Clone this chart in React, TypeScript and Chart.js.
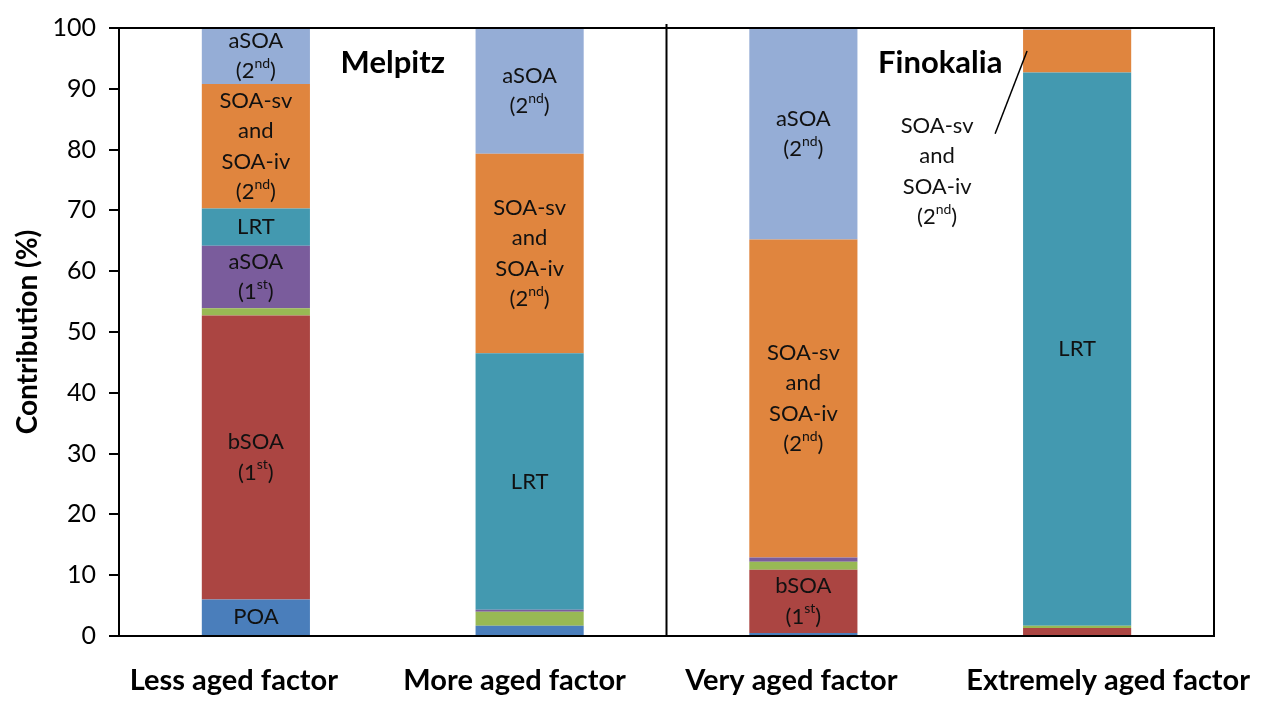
import { useEffect, useRef } from "react";
import { Chart, registerables } from "chart.js";

Chart.register(...registerables);

const categories = ["Less aged factor", "More aged factor", "Very aged factor", "Extremely aged factor"];

const poaValues = [6.0, 1.7, 0.5, 0];
const bsoa1Values = [46.7, 0, 10.4, 1.3];
const otherValues = [1.2, 2.3, 1.3, 0.4];
const asoa1Values = [10.3, 0.3, 0.7, 0];
const lrtValues = [6.1, 42.2, 0, 91.0];
const soaSvIvValues = [20.5, 32.8, 52.3, 7.0];
const asoa2Values = [9.2, 20.7, 34.8, 0.3];

const seriesNames = ["POA", "bSOA (1st)", "Other", "aSOA (1st)", "LRT", "SOA-sv and SOA-iv (2nd)", "aSOA (2nd)"];
const seriesColors = ["#4a7ebb", "#ab4542", "#98b954", "#7a5c9c", "#4399b0", "#e0853e", "#95add6"];

const poaLabels = [["POA"], null, null, null];
const bsoa1Labels = [["bSOA", "(1^st)"], null, ["bSOA", "(1^st)"], null];
const otherLabels = [null, null, null, null];
const asoa1Labels = [["aSOA", "(1^st)"], null, null, null];
const lrtLabels = [["LRT"], ["LRT"], null, ["LRT"]];
const soaSvIvLabels = [
  ["SOA-sv", "and", "SOA-iv", "(2^nd)"],
  ["SOA-sv", "and", "SOA-iv", "(2^nd)"],
  ["SOA-sv", "and", "SOA-iv", "(2^nd)"],
  null,
];
const asoa2Labels = [["aSOA", "(2^nd)"], ["aSOA", "(2^nd)"], ["aSOA", "(2^nd)"], null];

const siteNames = ["Melpitz", "Finokalia"];
const calloutLines = ["SOA-sv", "and", "SOA-iv", "(2^nd)"];

// horizontal shift of each category caption (style only)
const captionShift = [-22, -15, -12, 31];

const FONT = "Lato, 'Open Sans', sans-serif";

function drawRich(ctx: CanvasRenderingContext2D, text: string, cx: number, cy: number) {
  const parts = text.split(/\^([a-z]+)/);
  const normal = `22px ${FONT}`;
  const sup = `14px ${FONT}`;
  let total = 0;
  parts.forEach((p, i) => {
    ctx.font = i % 2 === 1 ? sup : normal;
    total += ctx.measureText(p).width;
  });
  let x = cx - total / 2;
  ctx.textAlign = "left";
  ctx.textBaseline = "middle";
  parts.forEach((p, i) => {
    const isSup = i % 2 === 1;
    ctx.font = isSup ? sup : normal;
    ctx.fillText(p, x, isSup ? cy - 8 : cy);
    x += ctx.measureText(p).width;
  });
}

function drawLines(ctx: CanvasRenderingContext2D, lines: string[], cx: number, cy: number) {
  const lh = 30.5;
  const y0 = cy - ((lines.length - 1) * lh) / 2;
  lines.forEach((l, i) => drawRich(ctx, l, cx, y0 + i * lh));
}

const labelsPlugin = {
  id: "segLabels",
  afterDatasetsDraw(chart: any) {
    const ctx: CanvasRenderingContext2D = chart.ctx;
    const xs = chart.scales.x;
    const ys = chart.scales.y;
    const area = chart.chartArea;
    const allLabels = [poaLabels, bsoa1Labels, otherLabels, asoa1Labels, lrtLabels, soaSvIvLabels, asoa2Labels];
    ctx.save();
    ctx.fillStyle = "#111";
    allLabels.forEach((lbls, di) => {
      const meta = chart.getDatasetMeta(di);
      lbls.forEach((l, ci) => {
        if (!l) return;
        const el = meta.data[ci];
        drawLines(ctx, l as string[], el.x, (el.y + el.base) / 2);
      });
    });
    // frame: top, right, divider
    ctx.strokeStyle = "#000";
    ctx.lineWidth = 2;
    ctx.beginPath();
    ctx.moveTo(area.left, area.top);
    ctx.lineTo(area.right, area.top);
    ctx.lineTo(area.right, area.bottom);
    const dx = (xs.getPixelForValue(1) + xs.getPixelForValue(2)) / 2;
    ctx.moveTo(dx, area.top - 4);
    ctx.lineTo(dx, area.bottom);
    ctx.stroke();
    // category captions
    ctx.font = `bold 29px ${FONT}`;
    ctx.textAlign = "center";
    ctx.textBaseline = "middle";
    ctx.fillStyle = "#000";
    categories.forEach((c, i) => {
      ctx.fillText(c, xs.getPixelForValue(i) + captionShift[i], area.bottom + 45);
    });
    // site names
    ctx.font = `bold 31px ${FONT}`;
    const sy = ys.getPixelForValue(94.3);
    ctx.fillText(siteNames[0], (xs.getPixelForValue(0) + xs.getPixelForValue(1)) / 2, sy);
    ctx.fillText(siteNames[1], (xs.getPixelForValue(2) + xs.getPixelForValue(3)) / 2, sy);
    // callout for extremely aged orange segment
    const el = chart.getDatasetMeta(5).data[3];
    const left = el.x - el.width / 2;
    ctx.fillStyle = "#111";
    drawLines(ctx, calloutLines, el.x - 140, ys.getPixelForValue(76.4));
    ctx.beginPath();
    ctx.lineWidth = 1.5;
    ctx.moveTo(el.x - 82, ys.getPixelForValue(82.6));
    ctx.lineTo(left + 4, (el.y + el.base) / 2);
    ctx.stroke();
    ctx.restore();
  },
};

export default function App() {
  const ref = useRef<HTMLCanvasElement>(null);
  useEffect(() => {
    document.body.style.margin = "0";
    const values = [poaValues, bsoa1Values, otherValues, asoa1Values, lrtValues, soaSvIvValues, asoa2Values];
    const chart = new Chart(ref.current!, {
      type: "bar",
      data: {
        labels: categories,
        datasets: values.map((v, i) => ({
          label: seriesNames[i],
          data: v,
          backgroundColor: seriesColors[i],
          borderWidth: 0,
          barPercentage: 0.395,
          categoryPercentage: 1,
        })),
      },
      options: {
        animation: false,
        responsive: true,
        maintainAspectRatio: false,
        layout: { padding: { top: 27, right: 63, left: 0, bottom: 0 } },
        plugins: { legend: { display: false }, tooltip: { enabled: false } },
        scales: {
          x: {
            stacked: true,
            grid: { display: false, drawTicks: false },
            border: { display: true, color: "#000", width: 2 },
            ticks: { display: false },
            afterFit: (s: any) => { s.height = 80; },
          },
          y: {
            stacked: true,
            min: 0,
            max: 100,
            ticks: { stepSize: 10, color: "#000", font: { family: FONT, size: 25 }, padding: 13 },
            grid: { drawOnChartArea: false, drawTicks: true, tickLength: 10, color: "#000", lineWidth: 2 },
            border: { display: true, color: "#000", width: 2 },
            title: {
              display: true,
              text: "Contribution (%)",
              color: "#000",
              font: { family: FONT, size: 28, weight: "bold" },
              padding: { top: 11, bottom: 0 },
            },
            afterFit: (s: any) => { s.width = 119; },
          },
        },
      },
      plugins: [labelsPlugin],
    });
    return () => chart.destroy();
  }, []);
  return (
    <div style={{ width: 1277, height: 716, position: "relative" }}>
      <canvas ref={ref} />
    </div>
  );
}
